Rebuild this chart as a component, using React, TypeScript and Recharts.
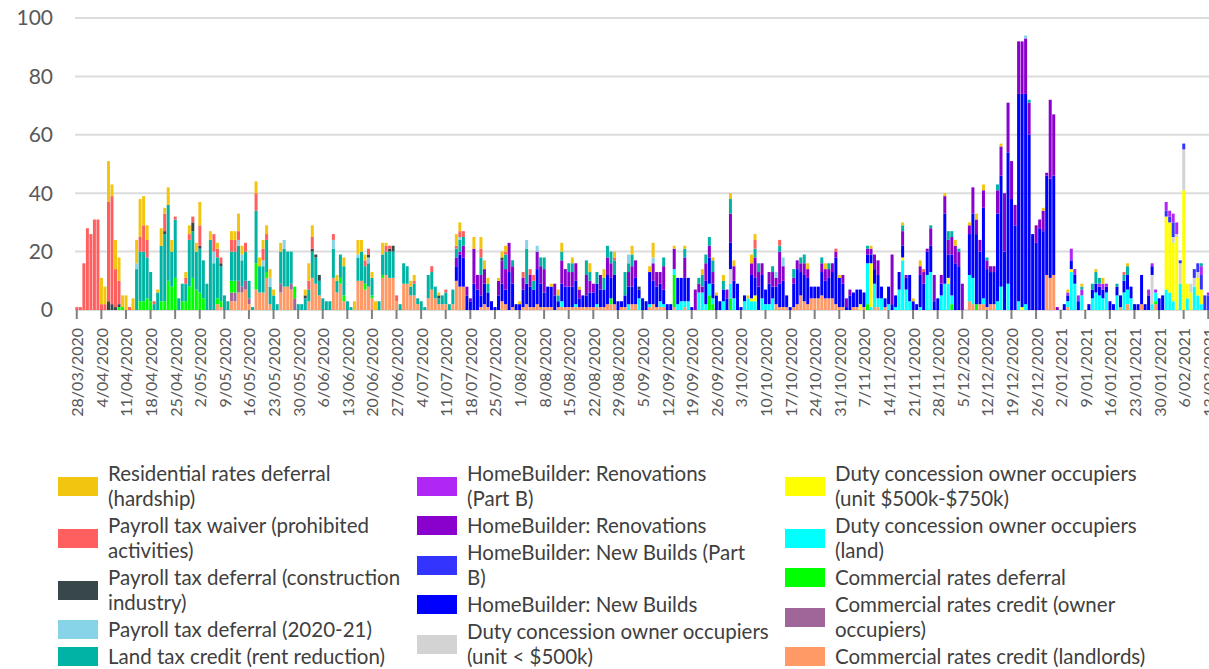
import React from 'react'
import { BarChart, Bar, XAxis, YAxis, CartesianGrid } from 'recharts'

const DAYS = 323
const FONT = "Lato, 'Open Sans', sans-serif"

// one category per day, starting 28/03/2020
const dates = Array.from({ length: DAYS }, (_, i) => {
  const d = new Date(2020, 2, 28 + i)
  return `${d.getDate()}/${String(d.getMonth() + 1).padStart(2, '0')}/${d.getFullYear()}`
})
const yTicks = [0, 20, 40, 60, 80, 100]

// daily counts, one row per week (Sat..Fri)
const residentialRates = [
  0, 0, 0, 0, 0, 0, 0,
  9, 6, 14, 4, 10, 8, 4,
  5, 0, 4, 8, 13, 10, 5,
  0, 0, 1, 6, 2, 6, 4,
  0, 0, 0, 2, 3, 0, 3,
  8, 0, 0, 3, 0, 2, 0,
  0, 0, 3, 3, 6, 3, 0,
  0, 0, 4, 3, 3, 3, 3,
  2, 0, 3, 0, 0, 0, 0,
  0, 0, 2, 6, 4, 0, 0,
  0, 0, 0, 0, 2, 0, 3,
  0, 0, 3, 5, 4, 2, 0,
  2, 3, 0, 4, 1, 0, 0,
  0, 0, 0, 0, 2, 2, 0,
  0, 0, 0, 0, 0, 1, 0,
  0, 0, 0, 4, 3, 0, 0,
  0, 4, 0, 4, 3, 2, 0,
  0, 1, 2, 2, 0, 0, 0,
  1, 0, 0, 0, 0, 0, 0,
  0, 0, 1, 0, 2, 3, 0,
  0, 2, 0, 1, 0, 0, 3,
  0, 0, 0, 3, 0, 0, 2,
  0, 0, 0, 0, 3, 0, 0,
  0, 0, 2, 5, 0, 0, 0,
  0, 0, 1, 0, 0, 1, 0,
  0, 0, 0, 2, 0, 0, 1,
  1, 0, 2, 0, 2, 2, 0,
  0, 0, 1, 3, 2, 0, 0,
  0, 0, 0, 0, 0, 0, 0,
  0, 0, 0, 0, 0, 2, 0,
  0, 0, 0, 2, 0, 0, 0,
  1, 0, 0, 0, 0, 0, 0,
  0, 0, 1, 0, 0, 0, 0,
  0, 0, 0, 0, 1, 0, 0,
  1, 0, 2, 0, 0, 0, 0,
  0, 0, 1, 0, 0, 2, 0,
  0, 0, 1, 0, 2, 0, 2,
  0, 0, 0, 0, 1, 0, 0,
  0, 0, 0, 0, 0, 0, 0,
  0, 0, 1, 0, 0, 0, 0,
  0, 0, 1, 0, 0, 0, 1,
  0, 0, 0, 1, 0, 2, 0,
  0, 0, 0, 0, 0, 1, 0,
  0, 0, 0, 0, 0, 0, 0,
  0, 0, 0, 0, 0, 0, 0,
  0, 0, 0, 0, 0, 0, 0,
  0,
]

const payrollWaiver = [
  1, 1, 16, 28, 26, 31, 31,
  2, 2, 34, 37, 13, 8, 0,
  0, 1, 0, 0, 5, 9, 6,
  0, 1, 0, 0, 6, 0, 0,
  1, 0, 0, 2, 2, 2, 0,
  7, 0, 0, 0, 6, 3, 2,
  0, 0, 4, 4, 3, 0, 3,
  0, 0, 6, 0, 4, 2, 0,
  0, 0, 0, 0, 0, 0, 0,
  0, 0, 0, 3, 4, 0, 0,
  0, 0, 0, 2, 0, 0, 0,
  0, 0, 0, 0, 0, 2, 2,
  0, 0, 0, 0, 2, 1, 0,
  2, 0, 0, 0, 0, 1, 0,
  0, 0, 0, 2, 0, 0, 0,
  1, 0, 0, 1, 2, 2, 0,
  0, 0, 0, 3, 0, 0, 0,
  0, 0, 0, 1, 0, 0, 0,
  0, 2, 0, 2, 2, 0, 0,
  0, 0, 0, 0, 0, 0, 0,
  0, 0, 0, 0, 0, 0, 0,
  0, 0, 0, 0, 0, 0, 1,
  0, 0, 0, 0, 0, 0, 0,
  0, 0, 0, 0, 0, 0, 0,
  0, 0, 0, 0, 0, 0, 0,
  0, 0, 0, 0, 0, 0, 0,
  0, 0, 0, 0, 0, 0, 0,
  0, 0, 0, 0, 3, 0, 0,
  0, 0, 0, 0, 2, 0, 0,
  0, 0, 0, 0, 0, 0, 0,
  0, 0, 0, 0, 0, 0, 1,
  0, 0, 0, 0, 0, 0, 0,
  0, 0, 0, 0, 0, 0, 0,
  0, 0, 0, 0, 0, 0, 0,
  0, 0, 0, 1, 0, 0, 0,
  0, 0, 0, 0, 0, 0, 0,
  0, 0, 0, 0, 0, 0, 0,
  0, 0, 0, 0, 0, 0, 0,
  0, 0, 0, 0, 0, 0, 0,
  0, 0, 0, 0, 0, 0, 0,
  0, 0, 0, 0, 0, 0, 0,
  0, 0, 0, 0, 0, 0, 0,
  0, 0, 0, 0, 1, 0, 0,
  0, 0, 0, 0, 0, 0, 0,
  0, 0, 0, 0, 0, 0, 0,
  0, 0, 0, 0, 0, 0, 0,
  0,
]

const landTaxCredit = [
  0, 0, 0, 0, 0, 0, 0,
  0, 0, 0, 0, 0, 0, 0,
  0, 0, 0, 14, 17, 17, 14,
  10, 2, 6, 19, 23, 26, 12,
  20, 4, 6, 6, 16, 16, 13,
  15, 13, 9, 24, 16, 14, 12,
  5, 3, 10, 10, 12, 9, 10,
  6, 1, 18, 9, 9, 11, 6,
  5, 2, 11, 13, 12, 11, 0,
  2, 2, 4, 4, 9, 9, 5,
  4, 3, 3, 10, 4, 8, 10,
  3, 1, 0, 8, 10, 6, 8,
  6, 0, 3, 7, 8, 9, 9,
  0, 2, 7, 6, 3, 4, 2,
  3, 1, 8, 6, 4, 2, 3,
  4, 2, 5, 3, 4, 3, 0,
  0, 0, 0, 6, 0, 3, 0,
  0, 0, 0, 5, 0, 2, 0,
  0, 0, 12, 0, 3, 0, 3,
  4, 0, 0, 0, 2, 3, 0,
  3, 3, 0, 0, 0, 5, 3,
  0, 4, 0, 4, 4, 4, 5,
  0, 0, 8, 3, 4, 0, 0,
  0, 0, 0, 0, 0, 0, 3,
  0, 0, 0, 0, 0, 3, 0,
  0, 0, 2, 4, 3, 3, 4,
  0, 0, 3, 0, 5, 0, 0,
  0, 0, 0, 0, 3, 3, 0,
  0, 0, 2, 0, 2, 0, 0,
  0, 3, 0, 2, 3, 0, 0,
  0, 0, 2, 0, 2, 0, 0,
  0, 0, 0, 0, 0, 0, 0,
  0, 1, 0, 0, 0, 0, 0,
  0, 0, 0, 0, 2, 0, 0,
  0, 0, 0, 0, 0, 1, 0,
  0, 0, 0, 3, 2, 0, 1,
  0, 0, 0, 0, 0, 0, 0,
  1, 0, 0, 2, 0, 0, 0,
  0, 0, 0, 0, 0, 1, 0,
  0, 0, 0, 0, 0, 0, 0,
  0, 0, 0, 0, 0, 0, 1,
  0, 0, 2, 4, 2, 0, 0,
  0, 0, 1, 0, 2, 3, 0,
  0, 0, 0, 0, 0, 0, 0,
  0, 0, 0, 0, 0, 0, 0,
  0, 0, 0, 0, 0, 1, 0,
  0,
]

const renovations = [
  0, 0, 0, 0, 0, 0, 0,
  0, 0, 0, 0, 0, 0, 0,
  0, 0, 0, 0, 0, 0, 0,
  0, 0, 0, 0, 0, 0, 0,
  0, 0, 0, 0, 0, 0, 0,
  0, 0, 0, 0, 0, 0, 0,
  0, 0, 0, 0, 0, 0, 0,
  0, 0, 0, 0, 0, 0, 0,
  0, 0, 0, 0, 0, 0, 0,
  0, 0, 0, 0, 0, 0, 0,
  0, 0, 0, 0, 0, 0, 0,
  0, 0, 0, 0, 0, 0, 0,
  0, 0, 0, 0, 0, 0, 0,
  0, 0, 0, 0, 0, 0, 0,
  0, 0, 0, 0, 0, 0, 0,
  0, 0, 0, 3, 1, 4, 3,
  1, 12, 5, 7, 5, 0, 0,
  0, 5, 8, 7, 10, 6, 0,
  0, 4, 0, 4, 0, 6, 6,
  8, 0, 0, 4, 0, 8, 6,
  5, 5, 6, 3, 0, 7, 4,
  3, 0, 5, 0, 6, 5, 0,
  0, 0, 0, 5, 7, 6, 0,
  0, 0, 0, 6, 5, 4, 8,
  0, 0, 7, 0, 0, 7, 0,
  0, 7, 3, 2, 6, 4, 4,
  0, 0, 0, 3, 10, 5, 0,
  0, 0, 0, 4, 7, 5, 4,
  0, 4, 5, 3, 11, 5, 0,
  0, 2, 3, 3, 4, 3, 0,
  0, 0, 3, 4, 3, 3, 2,
  0, 3, 3, 2, 0, 0, 0,
  0, 2, 2, 5, 5, 0, 0,
  0, 17, 0, 0, 5, 1, 0,
  0, 0, 3, 4, 1, 6, 9,
  0, 3, 6, 5, 6, 6, 5,
  9, 0, 3, 9, 5, 4, 6,
  3, 2, 2, 8, 10, 20, 17,
  13, 7, 18, 18, 19, 11, 0,
  6, 3, 7, 1, 27, 21, 1,
  0, 0, 0, 0, 0, 0, 0,
  0, 0, 0, 0, 0, 0, 0,
  0, 0, 0, 0, 0, 0, 0,
  0, 0, 0, 0, 0, 0, 0,
  0, 0, 0, 0, 0, 0, 0,
  0, 0, 0, 0, 0, 0, 0,
  0,
]

const newBuilds = [
  0, 0, 0, 0, 0, 0, 0,
  0, 0, 0, 0, 0, 0, 0,
  0, 0, 0, 0, 0, 0, 0,
  0, 0, 0, 0, 0, 0, 0,
  0, 0, 0, 0, 0, 0, 0,
  0, 0, 0, 0, 0, 0, 0,
  0, 0, 0, 0, 0, 0, 0,
  0, 0, 0, 0, 0, 0, 0,
  0, 0, 0, 0, 0, 0, 0,
  0, 0, 0, 0, 0, 0, 0,
  0, 0, 0, 0, 0, 0, 0,
  0, 0, 0, 0, 0, 0, 0,
  0, 0, 0, 0, 0, 0, 0,
  0, 0, 0, 0, 0, 0, 0,
  0, 0, 0, 0, 0, 0, 0,
  0, 0, 0, 5, 11, 10, 5,
  3, 9, 7, 4, 7, 5, 3,
  1, 5, 6, 5, 13, 8, 2,
  2, 6, 7, 7, 6, 12, 8,
  5, 7, 7, 5, 2, 6, 7,
  7, 7, 8, 3, 4, 4, 5,
  5, 7, 6, 6, 10, 7, 10,
  3, 2, 4, 6, 6, 9, 3,
  4, 3, 11, 8, 7, 6, 5,
  2, 2, 0, 9, 8, 8, 8,
  1, 0, 0, 0, 8, 9, 5,
  5, 3, 4, 4, 9, 6, 9,
  1, 2, 0, 8, 6, 8, 8,
  5, 7, 4, 6, 8, 9, 4,
  1, 8, 12, 8, 9, 9, 4,
  4, 4, 8, 6, 7, 9, 16,
  10, 8, 1, 5, 5, 6, 5,
  5, 3, 3, 5, 8, 4, 3,
  6, 2, 4, 6, 4, 4, 9,
  3, 2, 11, 9, 8, 9, 3,
  4, 4, 24, 8, 14, 16, 15,
  0, 0, 14, 22, 24, 18, 31,
  13, 11, 11, 30, 38, 20, 45,
  38, 29, 71, 73, 72, 60, 26,
  23, 28, 27, 34, 34, 34, 0,
  0, 2, 2, 3, 3, 3, 0,
  0, 2, 3, 3, 3, 3, 2,
  3, 2, 3, 4, 4, 5, 4,
  2, 2, 10, 2, 5, 3, 0,
  4, 5, 0, 0, 0, 0, 0,
  0, 0, 0, 0, 0, 0, 0,
  0,
]

const dutyLand = [
  0, 0, 0, 0, 0, 0, 0,
  0, 0, 0, 0, 0, 0, 0,
  0, 0, 0, 0, 0, 0, 0,
  0, 0, 0, 0, 0, 0, 0,
  0, 0, 0, 0, 0, 0, 0,
  0, 0, 0, 0, 0, 0, 0,
  0, 0, 0, 0, 0, 0, 0,
  0, 0, 0, 0, 0, 0, 0,
  0, 0, 0, 0, 0, 0, 0,
  0, 0, 0, 0, 0, 0, 0,
  0, 0, 0, 0, 0, 0, 0,
  0, 0, 0, 0, 0, 0, 0,
  0, 0, 0, 0, 0, 0, 0,
  0, 0, 0, 0, 0, 0, 0,
  0, 0, 0, 0, 0, 0, 0,
  0, 0, 0, 0, 0, 0, 0,
  0, 0, 0, 0, 0, 0, 0,
  0, 0, 0, 0, 0, 0, 0,
  0, 0, 0, 0, 0, 0, 0,
  0, 0, 0, 0, 0, 2, 0,
  0, 0, 1, 0, 0, 0, 0,
  0, 1, 0, 0, 0, 0, 0,
  0, 0, 0, 2, 0, 0, 4,
  0, 0, 1, 0, 0, 2, 1,
  0, 0, 2, 2, 3, 2, 3,
  0, 0, 6, 6, 2, 4, 2,
  0, 0, 3, 0, 5, 4, 0,
  0, 3, 4, 3, 3, 0, 4,
  2, 2, 4, 0, 0, 0, 0,
  0, 0, 0, 0, 0, 0, 0,
  0, 0, 0, 0, 0, 0, 0,
  0, 0, 0, 0, 0, 0, 0,
  0, 14, 1, 8, 3, 4, 0,
  2, 0, 1, 7, 17, 7, 3,
  0, 0, 1, 0, 12, 13, 0,
  0, 5, 9, 9, 3, 0, 0,
  0, 0, 9, 9, 0, 0, 2,
  0, 0, 0, 3, 8, 0, 9,
  0, 0, 3, 0, 2, 0, 0,
  0, 0, 0, 0, 0, 0, 0,
  0, 0, 2, 13, 9, 0, 5,
  0, 0, 4, 6, 5, 4, 6,
  0, 0, 5, 0, 6, 5, 4,
  0, 0, 0, 0, 0, 2, 3,
  0, 0, 7, 6, 3, 0, 9,
  0, 4, 0, 8, 5, 2, 0,
  0,
]

const landlordsCredit = [
  0, 0, 0, 0, 0, 0, 0,
  0, 0, 0, 0, 0, 0, 0,
  0, 0, 0, 0, 0, 0, 0,
  0, 0, 0, 0, 0, 0, 0,
  0, 0, 0, 0, 0, 0, 0,
  0, 0, 0, 0, 0, 2, 1,
  0, 0, 3, 3, 6, 6, 7,
  2, 0, 7, 6, 6, 11, 2,
  0, 0, 6, 8, 8, 7, 0,
  0, 0, 0, 3, 11, 9, 5,
  0, 0, 0, 11, 6, 9, 3,
  0, 0, 0, 10, 10, 7, 8,
  4, 0, 0, 11, 12, 11, 11,
  3, 0, 9, 9, 5, 5, 2,
  0, 0, 4, 7, 4, 2, 2,
  2, 0, 2, 10, 8, 8, 0,
  0, 0, 0, 1, 2, 1, 0,
  0, 0, 3, 2, 0, 1, 0,
  0, 1, 2, 1, 1, 2, 1,
  1, 1, 1, 0, 1, 1, 1,
  1, 1, 1, 1, 1, 1, 1,
  1, 1, 1, 1, 2, 2, 2,
  0, 1, 1, 0, 2, 2, 0,
  0, 0, 1, 2, 1, 1, 1,
  0, 0, 1, 0, 0, 1, 0,
  0, 0, 0, 0, 0, 0, 0,
  0, 0, 0, 0, 0, 0, 0,
  0, 0, 0, 0, 0, 0, 0,
  0, 0, 0, 2, 1, 1, 1,
  0, 1, 2, 5, 3, 2, 4,
  4, 4, 5, 4, 4, 4, 2,
  1, 1, 0, 0, 1, 1, 0,
  1, 0, 0, 1, 1, 0, 1,
  0, 0, 0, 0, 0, 0, 0,
  0, 0, 0, 0, 0, 0, 0,
  0, 0, 0, 0, 0, 0, 0,
  0, 0, 3, 2, 0, 2, 2,
  1, 2, 2, 0, 0, 0, 0,
  0, 0, 0, 0, 0, 0, 0,
  0, 0, 0, 12, 11, 12, 0,
  0, 0, 1, 0, 0, 0, 0,
  0, 0, 0, 0, 0, 0, 0,
  0, 0, 0, 1, 0, 2, 0,
  0, 0, 2, 0, 0, 0, 2,
  0, 0, 0, 0, 0, 0, 0,
  0, 0, 0, 0, 0, 0, 0,
  0,
]

// smaller series: [day number from 28/03/2020, value]
const constructionDeferral: [number, number][] = [[9, 3], [10, 2], [11, 1], [12, 1], [25, 1], [33, 3], [35, 1], [41, 1], [65, 1], [67, 1], [68, 1], [69, 2], [83, 1], [89, 1], [90, 2], [103, 1], [121, 1], [160, 1]]
const payrollDeferral: [number, number][] = [[17, 2], [39, 4], [46, 2], [47, 2], [53, 2], [55, 3], [59, 3], [73, 3], [80, 1], [83, 2], [109, 1], [128, 3], [131, 2], [157, 3], [164, 2], [199, 2], [201, 3], [270, 1]]
const commercialDeferral: [number, number][] = [[12, 1], [13, 1], [18, 3], [19, 3], [20, 4], [21, 3], [24, 3], [25, 3], [26, 10], [27, 8], [28, 11], [30, 3], [31, 3], [32, 8], [33, 11], [34, 7], [35, 6], [36, 4], [40, 2], [41, 2], [44, 4], [45, 4], [51, 9], [54, 2], [62, 4], [75, 2], [76, 2], [82, 2], [84, 1], [87, 1], [152, 2], [170, 11], [180, 5], [181, 2], [186, 4], [225, 2], [249, 2], [256, 2], [307, 1]]
const ownerOccCredit: [number, number][] = [[44, 3], [45, 3], [46, 4], [47, 2], [48, 3], [49, 2], [58, 3], [61, 2], [62, 4]]
const dutyUnitSmall: [number, number][] = [[186, 5], [306, 10], [312, 2], [313, 1], [314, 7], [315, 14], [317, 3], [318, 3], [319, 2]]
const dutyUnitMid: [number, number][] = [[192, 1], [193, 2], [223, 2], [226, 15], [235, 1], [248, 2], [269, 1], [283, 1], [310, 25], [311, 24], [312, 20], [313, 25], [315, 41], [316, 5], [317, 6], [319, 6], [320, 5]]
const renovationsPartB: [number, number][] = [[282, 1], [283, 4], [284, 2], [285, 2], [286, 2], [291, 1], [292, 2], [293, 1], [305, 2], [306, 1], [307, 1], [310, 3], [311, 2], [312, 3], [313, 4], [320, 3], [322, 1]]
const newBuildsPartB: [number, number][] = [[310, 2], [311, 2], [312, 5], [314, 1], [315, 2], [318, 3], [319, 3], [320, 5], [321, 5], [322, 5]]

const onDays = (pairs: [number, number][]) => {
  const out = new Array(DAYS).fill(0)
  pairs.forEach(([day, v]) => { out[day] = v })
  return out
}

// legend order; stacking goes the other way (last item at the bottom)
const series = [
  { key: 'res', lines: ['Residential rates deferral', '(hardship)'], color: '#F2C511', values: residentialRates },
  { key: 'waiver', lines: ['Payroll tax waiver (prohibited', 'activities)'], color: '#FF5F5F', values: payrollWaiver },
  { key: 'constr', lines: ['Payroll tax deferral (construction', 'industry)'], color: '#37474A', values: onDays(constructionDeferral) },
  { key: 'ptd', lines: ['Payroll tax deferral (2020-21)'], color: '#87D3E8', values: onDays(payrollDeferral) },
  { key: 'ltc', lines: ['Land tax credit (rent reduction)'], color: '#00B3A4', values: landTaxCredit },
  { key: 'renoB', lines: ['HomeBuilder: Renovations', '(Part B)'], color: '#B026F5', values: onDays(renovationsPartB) },
  { key: 'reno', lines: ['HomeBuilder: Renovations'], color: '#8A00CC', values: renovations },
  { key: 'nbB', lines: ['HomeBuilder: New Builds (Part', 'B)'], color: '#3434FF', values: onDays(newBuildsPartB) },
  { key: 'nb', lines: ['HomeBuilder: New Builds'], color: '#0000FF', values: newBuilds },
  { key: 'dutyU', lines: ['Duty concession owner occupiers', '(unit < $500k)'], color: '#D3D3D3', values: onDays(dutyUnitSmall) },
  { key: 'dutyU2', lines: ['Duty concession owner occupiers', '(unit $500k-$750k)'], color: '#FFFF00', values: onDays(dutyUnitMid) },
  { key: 'dutyL', lines: ['Duty concession owner occupiers', '(land)'], color: '#00FFFF', values: dutyLand },
  { key: 'crd', lines: ['Commercial rates deferral'], color: '#00FF00', values: onDays(commercialDeferral) },
  { key: 'crcO', lines: ['Commercial rates credit (owner', 'occupiers)'], color: '#A0669A', values: onDays(ownerOccCredit) },
  { key: 'crcL', lines: ['Commercial rates credit (landlords)'], color: '#FF9966', values: landlordsCredit },
]

const data = dates.map((date, i) => {
  const row: Record<string, string | number> = { date }
  series.forEach(s => { row[s.key] = s.values[i] ?? 0 })
  return row
})

const DateTick = (props: any) => {
  const { x, y, payload } = props
  return (
    <text
      x={x}
      y={y}
      transform={`rotate(-90 ${x} ${y})`}
      textAnchor="end"
      dominantBaseline="central"
      fontSize={16}
      fontFamily={FONT}
      fill="#595959"
    >
      {payload.value}
    </text>
  )
}

const legendColumns = [0, 5, 10].map(start => series.slice(start, start + 5))
const columnLeft = [58, 417, 785]

export default function App() {
  return (
    <div style={{ position: 'absolute', left: 0, top: 0, width: 1209, height: 669, overflow: 'hidden', background: '#fff', fontFamily: FONT }}>
      <BarChart
        width={1210}
        height={440}
        data={data}
        margin={{ top: 18, right: 0, bottom: 0, left: 0 }}
        barCategoryGap="10%"
      >
        <CartesianGrid vertical={false} stroke="#dcdcdc" strokeWidth={2} />
        <XAxis
          dataKey="date"
          interval={6}
          height={130}
          tickSize={9}
          tickMargin={9}
          axisLine={false}
          tickLine={{ stroke: '#808080', strokeWidth: 2 }}
          tick={<DateTick />}
        />
        <YAxis
          domain={[0, 100]}
          ticks={yTicks}
          width={75}
          axisLine={false}
          tickLine={false}
          tickMargin={16}
          tick={{ fontSize: 21, fill: '#595959', fontFamily: FONT }}
        />
        {[...series].reverse().map(s => (
          <Bar key={s.key} dataKey={s.key} stackId="a" fill={s.color} isAnimationActive={false} />
        ))}
      </BarChart>

      {legendColumns.map((col, ci) => (
        <div key={ci} style={{ position: 'absolute', left: columnLeft[ci], top: 461, display: 'flex', flexDirection: 'column', gap: 2 }}>
          {col.map(s => (
            <div key={s.key} style={{ display: 'flex', alignItems: 'center' }}>
              <div style={{ width: 40, height: 19, background: s.color, marginRight: 10, flexShrink: 0 }} />
              <div style={{ fontSize: 20.5, lineHeight: '25px', color: '#404040', whiteSpace: 'nowrap' }}>
                {s.lines.map((l, li) => <div key={li}>{l}</div>)}
              </div>
            </div>
          ))}
        </div>
      ))}
    </div>
  )
}
